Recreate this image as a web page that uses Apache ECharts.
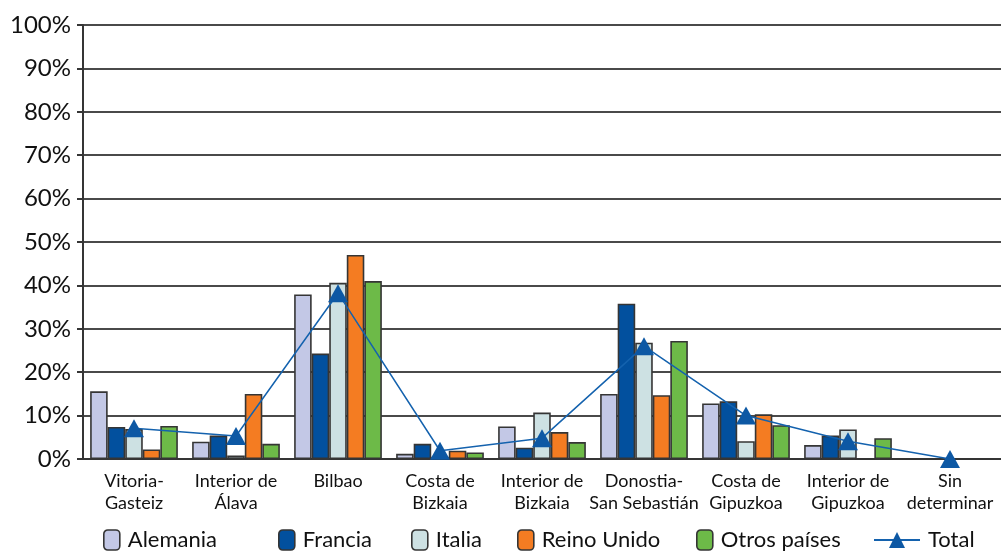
<!DOCTYPE html>
<html>
<head>
<meta charset="utf-8">
<script src="https://cdn.jsdelivr.net/npm/echarts@6/dist/echarts.min.js"></script>
<style>
  html, body { margin: 0; padding: 0; background: #fff; }
  #chart { width: 1001px; height: 552px; }
</style>
</head>
<body>
<div id="chart"></div>
<script>
// Zonas turísticas del País Vasco
const categories = [
  'Vitoria-\nGasteiz', 'Interior de\nÁlava', 'Bilbao', 'Costa de\nBizkaia',
  'Interior de\nBizkaia', 'Donostia-\nSan Sebastián', 'Costa de\nGipuzkoa',
  'Interior de\nGipuzkoa', 'Sin\ndeterminar'
];

// Porcentaje de turistas por país de origen (%)
const alemania   = [15.6, 4.0, 37.9, 1.2, 7.5, 15.0, 12.8, 3.2, 0];
const francia    = [7.4, 5.4, 24.3, 3.5, 2.6, 35.8, 13.3, 5.4, 0];
const italia     = [6.9, 0.8, 40.6, 0.5, 10.7, 26.8, 4.1, 6.8, 0];
const reinoUnido = [2.2, 15.0, 47.0, 1.9, 6.2, 14.7, 10.3, 0, 0];
const otros      = [7.6, 3.5, 41.0, 1.5, 3.9, 27.2, 7.8, 4.8, 0];
const total      = [7.1, 5.3, 38.2, 1.9, 4.8, 26.0, 10.0, 4.1, 0];

const yTicks = { min: 0, max: 100, interval: 10 };

const FONT = 'Lato, "Open Sans", sans-serif';
const edge = '#353535';

function barSeries(name, data, color) {
  return {
    name, type: 'bar', data,
    barGap: '0%', barCategoryGap: '14%',
    itemStyle: { color, borderColor: edge, borderWidth: 1.6 }
  };
}

const legendBase = {
  top: 529, itemWidth: 16, itemHeight: 20, itemGap: 0, padding: 0,
  textStyle: { fontFamily: FONT, fontSize: 22, color: '#111', padding: [0, 0, 0, 3] },
  itemStyle: { borderColor: edge, borderWidth: 1.6 }
};

const chart = echarts.init(document.getElementById('chart'), null, { renderer: 'canvas' });
chart.setOption({
  animation: false,
  backgroundColor: '#fff',
  grid: { left: 83, right: 0, top: 25, bottom: 93, containLabel: false },
  legend: [
    Object.assign({}, legendBase, { left: 103, data: ['Alemania'] }),
    Object.assign({}, legendBase, { left: 278, data: ['Francia'] }),
    Object.assign({}, legendBase, { left: 411, data: ['Italia'] }),
    Object.assign({}, legendBase, { left: 517, data: ['Reino Unido'] }),
    Object.assign({}, legendBase, { left: 696, data: ['Otros países'] }),
    Object.assign({}, legendBase, { left: 873, itemWidth: 46, itemHeight: 20, data: ['Total'],
      itemStyle: {} })
  ],
  xAxis: {
    type: 'category', data: categories,
    axisLine: { lineStyle: { color: edge, width: 2 } },
    axisTick: { show: false },
    axisLabel: { fontFamily: FONT, fontSize: 18, color: '#111', lineHeight: 22, margin: 11, interval: 0 }
  },
  yAxis: {
    type: 'value', min: yTicks.min, max: yTicks.max, interval: yTicks.interval,
    axisLine: { show: true, lineStyle: { color: edge, width: 2 } },
    axisTick: { show: true, length: 6, lineStyle: { color: edge, width: 2 } },
    axisLabel: { formatter: '{value}%', fontFamily: FONT, fontSize: 24, color: '#111', margin: 12 },
    splitLine: { lineStyle: { color: '#4a4a4a', width: 2 } }
  },
  series: [
    barSeries('Alemania', alemania, '#c3c8e6'),
    barSeries('Francia', francia, '#02509e'),
    barSeries('Italia', italia, '#cde1e3'),
    barSeries('Reino Unido', reinoUnido, '#f47c22'),
    barSeries('Otros países', otros, '#6dba48'),
    {
      name: 'Total', type: 'line', data: total,
      symbol: 'triangle', symbolSize: [20, 18],
      lineStyle: { color: '#1462ae', width: 1.5 },
      itemStyle: { color: '#0d58a4' },
      z: 10
    }
  ]
});
</script>
</body>
</html>
